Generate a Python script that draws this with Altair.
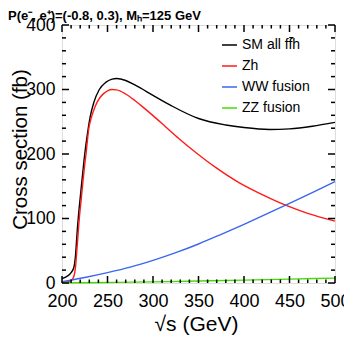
import altair as alt
import pandas as pd

# ---- data ----
sm_x = [200, 205, 210, 213, 214, 215, 216, 217, 218, 219, 220, 222, 225, 228, 231, 235, 241, 248, 255, 260,
        270, 280, 300, 320, 350, 380, 400, 428, 450, 475, 500]
sm_y = [7, 10, 16, 24, 32, 45, 66, 86, 103, 118, 132, 160, 200, 232, 258, 280, 300, 311, 316, 317,
        314, 307, 291, 275, 255, 245, 241, 238, 239, 243, 249]

zh_x = [200, 205, 210, 212, 214, 215, 216, 217, 218, 219, 221, 223, 225, 226.4, 228, 229.3, 231, 233, 236,
        238.5, 242, 246, 250, 255, 260, 270, 280, 290, 300, 314, 328, 346, 370, 394, 420, 445, 470, 500]
zh_y = [0.5, 1.5, 4, 7, 16, 27, 45, 63, 82, 100, 128, 157, 184, 200, 222, 238, 250, 260, 272,
        280, 288, 294, 298, 300, 299.5, 293, 283, 271.5, 259.5, 242, 224.5, 203.5, 178, 156, 137, 121, 108, 96]

ww_x = [200, 225, 250, 275, 300, 325, 350, 375, 400, 425, 450, 475, 500]
ww_y = [2, 8.5, 16, 24.5, 35, 47, 60.5, 75.5, 91, 107, 123.5, 140, 157]

zz_x = [200, 250, 300, 350, 400, 450, 500]
zz_y = [0.2, 0.8, 1.8, 3, 4.4, 6, 7.5]

series_names = ["SM all ffh", "Zh", "WW fusion", "ZZ fusion"]
series_colors = ["#000000", "#ff1a1a", "#3a66f0", "#44dd00"]

x_ticks = [200, 250, 300, 350, 400, 450, 500]
y_ticks = [0, 100, 200, 300, 400]

title_text = "P(e\u207b, e\u207a)=(-0.8, 0.3), M\u2095=125 GeV"

# ---- build table ----
frames = []
for name, xs, ys, order in zip(series_names, [sm_x, zh_x, ww_x, zz_x], [sm_y, zh_y, ww_y, zz_y], range(4)):
    frames.append(pd.DataFrame({"s": xs, "sigma": ys, "series": name, "o": order}))
df = pd.concat(frames, ignore_index=True)

W, H = 273, 258
FONT = "Liberation Sans"
xscale = alt.Scale(domain=[200, 500], nice=False, zero=False)
yscale = alt.Scale(domain=[0, 400], nice=False, zero=True)

xaxis = alt.Axis(values=x_ticks, format="d", ticks=False, domain=False, grid=False,
                 labelFont=FONT, labelFontSize=18, labelColor="black", labelPadding=9,
                 labelFlush=False, labelOverlap=False,
                 title="\u221as (GeV)", titleFont=FONT, titleFontSize=21,
                 titleFontWeight="normal", titleColor="black",
                 titleX=134, titleY=47, titleAlign="center", titleBaseline="alphabetic")
yaxis = alt.Axis(values=y_ticks, format="d", ticks=False, domain=False, grid=False,
                 labelFont=FONT, labelFontSize=17.5, labelColor="black", labelPadding=7,
                 labelOverlap=False,
                 title="Cross section (fb)", titleFont=FONT, titleFontSize=20.5,
                 titleFontWeight="normal", titleColor="black",
                 titleX=-42, titleY=124, titleAngle=270, titleAlign="center",
                 titleBaseline="middle")

lines = alt.Chart(df).mark_line(interpolate="monotone", strokeWidth=1.4).encode(
    x=alt.X("s:Q", scale=xscale, axis=xaxis),
    y=alt.Y("sigma:Q", scale=yscale, axis=yaxis),
    color=alt.Color("series:N", scale=alt.Scale(domain=series_names, range=series_colors), legend=None),
    detail="series:N",
    order=alt.Order("o:Q"),
)

# inward ticks on all four sides
x_major = pd.DataFrame({"t": x_ticks})
x_minor = pd.DataFrame({"t": [v for v in range(200, 501, 10) if v % 50 != 0]})
y_major = pd.DataFrame({"t": y_ticks})
y_minor = pd.DataFrame({"t": [v for v in range(0, 401, 20) if v % 100 != 0]})

def xtick_layer(d, length):
    bottom = alt.Chart(d).mark_rule(color="black", strokeWidth=1.5).encode(
        x=alt.X("t:Q", scale=xscale, axis=xaxis), y=alt.value(H), y2=alt.value(H - length))
    top = alt.Chart(d).mark_rule(color="black", strokeWidth=1.5).encode(
        x=alt.X("t:Q", scale=xscale, axis=xaxis), y=alt.value(0), y2=alt.value(length))
    return [bottom, top]

def ytick_layer(d, length):
    left = alt.Chart(d).mark_rule(color="black", strokeWidth=1.5).encode(
        y=alt.Y("t:Q", scale=yscale, axis=yaxis), x=alt.value(0), x2=alt.value(length))
    right = alt.Chart(d).mark_rule(color="black", strokeWidth=1.5).encode(
        y=alt.Y("t:Q", scale=yscale, axis=yaxis), x=alt.value(W), x2=alt.value(W - length))
    return [left, right]

ticks = xtick_layer(x_major, 7) + xtick_layer(x_minor, 3.5) + ytick_layer(y_major, 7) + ytick_layer(y_minor, 4)

# manual legend
legend_layers = []
for i, (name, col) in enumerate(zip(series_names, series_colors)):
    yy = 20 + 21 * i
    legend_layers.append(
        alt.Chart(pd.DataFrame({"k": [name]})).mark_rule(color=col, strokeWidth=1.5).encode(
            x=alt.value(160), x2=alt.value(175), y=alt.value(yy)))
    legend_layers.append(
        alt.Chart(pd.DataFrame({"k": [name]})).mark_text(
            align="left", baseline="middle", font=FONT, fontSize=14, color="black").encode(
            x=alt.value(180), y=alt.value(yy), text="k:N"))

# bar over the second f of "ffh" (anti-fermion)
fbar = alt.Chart(pd.DataFrame({"k": ["bar"]})).mark_rule(color="black", strokeWidth=1).encode(
    x=alt.value(180 + 47.2), x2=alt.value(180 + 51.5), y=alt.value(20 - 7.5))

title = alt.Chart(pd.DataFrame({"k": [title_text]})).mark_text(
    align="left", baseline="alphabetic", font=FONT, fontSize=13, fontWeight="bold", color="black").encode(
    x=alt.value(-54), y=alt.value(-5.2), text="k:N")

chart = alt.layer(lines, *ticks, *legend_layers, fbar, title).properties(
    width=W, height=H,
    autosize=alt.AutoSizeParams(type="none"),
    padding={"left": 54, "top": 17, "right": 9, "bottom": 53},
).configure_view(stroke="black", strokeWidth=2).configure(background="white")

chart.save("out.html", embed_options={"renderer": "svg", "actions": False})
